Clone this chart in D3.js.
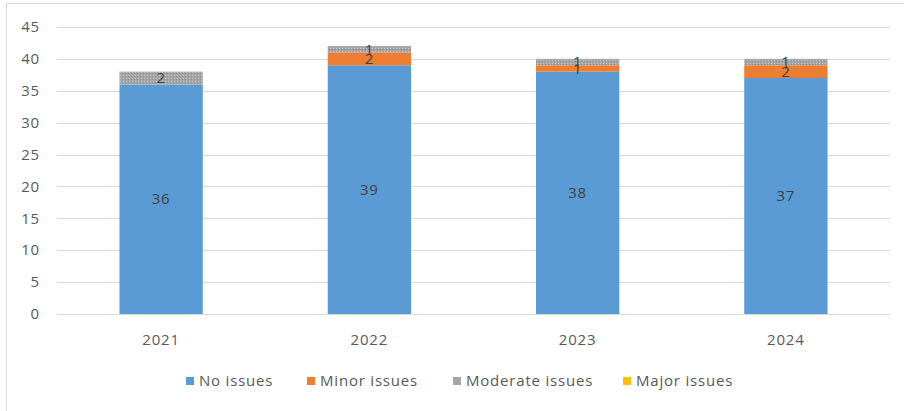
<!DOCTYPE html>
<html>
<head>
<meta charset="utf-8">
<script src="https://cdn.jsdelivr.net/npm/d3@7"></script>
<style>
  body { margin: 0; background: #fff; }
  svg { display: block; font-family: "Open Sans", "Noto Sans", sans-serif; letter-spacing: 0.8px; }
</style>
</head>
<body>
<svg width="904" height="411"></svg>
<script>
// chart data
const years = ["2021", "2022", "2023", "2024"];
const seriesNames = ["No issues", "Minor issues", "Moderate issues", "Major issues"];
const noIssues = [36, 39, 38, 37];
const minorIssues = [0, 2, 1, 2];
const moderateIssues = [2, 1, 1, 1];
const majorIssues = [0, 0, 0, 0];
const yTicks = [0, 5, 10, 15, 20, 25, 30, 35, 40, 45];

const colors = ["#5b9bd5", "#ed7d31", "#a5a5a5", "#ffc000"];

const svg = d3.select("svg");
const margin = { left: 57, right: 14, top: 27, bottom: 97 };
const width = 904, height = 411;

// outer chart border (only top/left show in the crop)
svg.append("rect")
    .attr("x", 6.5).attr("y", 3.5)
    .attr("width", 910).attr("height", 420)
    .attr("fill", "none")
    .attr("stroke", "#d9d9d9");

// pattern for moderate issues
const defs = svg.append("defs");
const pat = defs.append("pattern")
    .attr("id", "dots")
    .attr("width", 3).attr("height", 3)
    .attr("patternUnits", "userSpaceOnUse");
pat.append("rect").attr("width", 3).attr("height", 3).attr("fill", "#a5a5a5");
pat.append("rect").attr("x", 0).attr("y", 0).attr("width", 1).attr("height", 1).attr("fill", "#c8c8c8");
pat.append("rect").attr("x", 2).attr("y", 1).attr("width", 1).attr("height", 1).attr("fill", "#8c8c8c");

const rows = years.map((y, i) => ({
    year: y,
    "No issues": noIssues[i],
    "Minor issues": minorIssues[i],
    "Moderate issues": moderateIssues[i],
    "Major issues": majorIssues[i]
}));

const x = d3.scaleBand()
    .domain(years)
    .range([margin.left, width - margin.right])
    .paddingInner(0.6)
    .paddingOuter(0.3);

const y = d3.scaleLinear()
    .domain([0, 45])
    .range([height - margin.bottom, margin.top]);

// gridlines
svg.append("g")
    .selectAll("line")
    .data(yTicks)
    .enter().append("line")
    .attr("x1", margin.left)
    .attr("x2", width - margin.right)
    .attr("y1", d => Math.round(y(d)) + 0.5)
    .attr("y2", d => Math.round(y(d)) + 0.5)
    .attr("stroke", "#d9d9d9")
    .attr("stroke-width", 1);

// y axis labels
svg.append("g")
    .selectAll("text")
    .data(yTicks)
    .enter().append("text")
    .attr("x", 40)
    .attr("y", d => y(d))
    .attr("dy", "0.35em")
    .attr("text-anchor", "end")
    .attr("font-size", 15)
    .attr("fill", "#595959")
    .text(d => d);

const stack = d3.stack().keys(seriesNames);
const stacked = stack(rows);

const layer = svg.append("g")
    .selectAll("g")
    .data(stacked)
    .enter().append("g")
    .attr("fill", (d, i) => i === 2 ? "url(#dots)" : colors[i]);

layer.selectAll("rect")
    .data(d => d)
    .enter().append("rect")
    .attr("x", d => x(d.data.year))
    .attr("width", x.bandwidth())
    .attr("y", d => y(d[1]))
    .attr("height", d => y(d[0]) - y(d[1]));

// data labels
stacked.forEach(s => {
    svg.append("g")
        .selectAll("text")
        .data(s.filter(d => d[1] - d[0] > 0))
        .enter().append("text")
        .attr("x", d => x(d.data.year) + x.bandwidth() / 2)
        .attr("y", d => (y(d[0]) + y(d[1])) / 2)
        .attr("dy", "0.35em")
        .attr("text-anchor", "middle")
        .attr("font-size", 15)
        .attr("fill", "#404040")
        .text(d => d[1] - d[0]);
});

// x axis labels
svg.append("g")
    .selectAll("text")
    .data(years)
    .enter().append("text")
    .attr("x", d => x(d) + x.bandwidth() / 2)
    .attr("y", 340)
    .attr("dy", "0.35em")
    .attr("text-anchor", "middle")
    .attr("font-size", 15)
    .attr("fill", "#595959")
    .text(d => d);

// legend
const legendX = [186, 307, 453, 623];
const legend = svg.append("g")
    .selectAll("g")
    .data(seriesNames)
    .enter().append("g")
    .attr("transform", (d, i) => `translate(${legendX[i]},381)`);

legend.append("rect")
    .attr("x", 0).attr("y", -4)
    .attr("width", 8).attr("height", 8)
    .attr("fill", (d, i) => colors[i]);

legend.append("text")
    .attr("x", 13)
    .attr("dy", "0.35em")
    .attr("font-size", 15)
    .attr("fill", "#595959")
    .text(d => d);
</script>
</body>
</html>
